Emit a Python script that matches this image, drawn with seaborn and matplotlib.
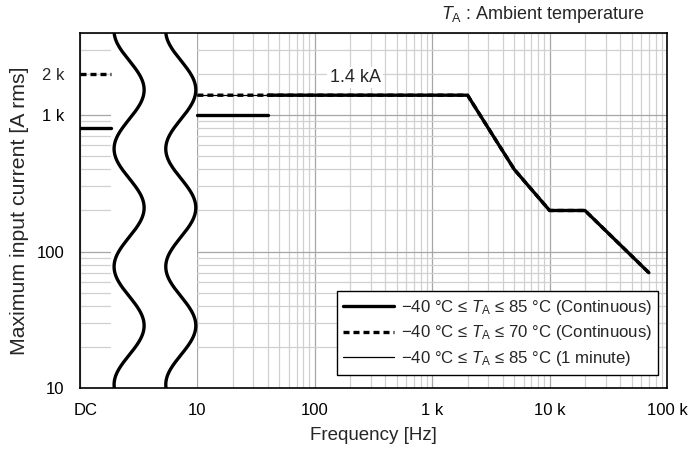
import numpy as np
import pandas as pd
import seaborn as sns
import matplotlib.pyplot as plt
from matplotlib.lines import Line2D
from matplotlib.ticker import FixedLocator, FuncFormatter, NullFormatter
from matplotlib.transforms import ScaledTranslation

# ---- values ----
# DC values (drawn in the "DC" strip at the left edge)
dc_i_cont85 = 800
dc_i_cont70 = 2000
# -40..85 C continuous
cont85_low_f = [10, 40]
cont85_low_i = [1000, 1000]
cont85_f = [40, 2000, 5000, 10000, 20000, 70000]
cont85_i = [1400, 1400, 400, 200, 200, 70]
# -40..70 C continuous
cont70_f = [10, 2000, 5000, 10000, 20000, 70000]
cont70_i = [1400, 1400, 400, 200, 200, 70]
# -40..85 C, 1 minute
min1_f = [10, 40]
min1_i = [1400, 1400]

x_ticks = [1, 10, 100, 1000, 10000, 100000]
x_labels = ['DC', '10', '100', '1 k', '10 k', '100 k']
y_ticks = [10, 100, 1000]
y_labels = ['10', '100', '1 k']

legend_labels = [
    '\u221240 \u00b0C \u2264 $T_{\\mathrm{A}}$ \u2264 85 \u00b0C (Continuous)',
    '\u221240 \u00b0C \u2264 $T_{\\mathrm{A}}$ \u2264 70 \u00b0C (Continuous)',
    '\u221240 \u00b0C \u2264 $T_{\\mathrm{A}}$ \u2264 85 \u00b0C (1 minute)',
]

sns.set_style('white')
plt.rcParams['font.family'] = ['Liberation Sans', 'DejaVu Sans']
plt.rcParams['mathtext.fontset'] = 'custom'
plt.rcParams['mathtext.rm'] = 'Liberation Sans'
plt.rcParams['mathtext.it'] = 'Liberation Sans:italic'

fig = plt.figure(figsize=(6.92, 4.49), dpi=100)
ax = fig.add_axes([0.1156, 0.1359, 0.8483, 0.7906])
ax.set_xscale('log')
ax.set_yscale('log')
ax.set_xlim(1, 100000)
ax.set_ylim(10, 4000)

# grid
ax.set_axisbelow(True)
ax.xaxis.set_minor_locator(FixedLocator([m * 10 ** d for d in range(0, 5) for m in range(2, 10)]))
ax.yaxis.set_minor_locator(FixedLocator([m * 10 ** d for d in range(1, 4) for m in range(2, 10)]))
ax.grid(which='major', color='#a6a6a6', lw=0.9)
ax.grid(which='minor', color='#d0d0d0', lw=0.9)

# blank region for the axis break between DC and 10 Hz
ax.axvspan(1.84, 9.93, color='white', zorder=1, lw=0)

dc_x = [1, 1.84]
thick = 2.4
dash = (1.8, 1.2)

# dashed -40..70 C
sns.lineplot(x=dc_x, y=[dc_i_cont70] * 2, ax=ax, color='black', lw=thick,
             zorder=3).lines[-1].set_dashes(dash)
sns.lineplot(x=cont70_f, y=cont70_i, ax=ax, color='black', lw=thick,
             sort=False, estimator=None, zorder=3).lines[-1].set_dashes(dash)
# thin 1 minute
sns.lineplot(x=min1_f, y=min1_i, ax=ax, color='black', lw=0.9, zorder=3)
# solid -40..85 C
sns.lineplot(x=dc_x, y=[dc_i_cont85] * 2, ax=ax, color='black', lw=thick, zorder=4)
sns.lineplot(x=cont85_low_f, y=cont85_low_i, ax=ax, color='black', lw=thick, zorder=4)
sns.lineplot(x=cont85_f, y=cont85_i, ax=ax, color='black', lw=thick,
             sort=False, estimator=None, zorder=4)

# wavy break marks
yy = np.linspace(1.0, np.log10(4000), 300)
for c in [2.62, 7.22]:
    xx = 10 ** (np.log10(c) + 0.128 * np.cos(2 * np.pi * (yy - 3.185) / 0.864))
    ax.plot(xx, 10 ** yy, color='black', lw=2.4, zorder=5)

ax.set_xticks(x_ticks)
ax.set_xticklabels(x_labels)
ax.set_yticks(y_ticks)
ax.set_yticklabels(y_labels)
ax.yaxis.set_minor_formatter(FuncFormatter(lambda v, p: '2 k' if abs(v - 2000) < 1 else ''))
ax.xaxis.set_minor_formatter(NullFormatter())
ax.tick_params(which='major', direction='in', length=4, width=1, colors='black',
               labelsize=12)
ax.tick_params(which='minor', length=0, labelsize=12)
ax.tick_params(axis='x', which='both', pad=11)
ax.tick_params(axis='y', which='both', pad=11)
for s in ax.spines.values():
    s.set_color('black')
    s.set_linewidth(1.2)

# "DC" sits a little right of the axis edge
dc_lbl = ax.get_xticklabels()[0]
dc_lbl.set_transform(dc_lbl.get_transform() + ScaledTranslation(4 / 72, 0, fig.dpi_scale_trans))

ax.set_xlabel('Frequency [Hz]', fontsize=13.5, labelpad=6)
ax.set_ylabel('Maximum input current [A rms]', fontsize=15.3, labelpad=6)

ax.text(220, 1880, '1.4 kA', fontsize=13, ha='center', va='center', zorder=6,
        bbox=dict(facecolor='white', edgecolor='none', pad=1.5))
ax.text(0.9625, 1.022, '$T_{\\mathrm{A}}$ : Ambient temperature', transform=ax.transAxes,
        ha='right', va='bottom', fontsize=13)

handles = [Line2D([], [], color='black', lw=thick),
           Line2D([], [], color='black', lw=thick, dashes=dash),
           Line2D([], [], color='black', lw=0.9)]
leg = ax.legend(handles, legend_labels, loc='lower right', bbox_to_anchor=(0.985, 0.037),
                borderaxespad=0, fontsize=12.1, frameon=True, fancybox=False, framealpha=1,
                edgecolor='black', handlelength=3.0, handletextpad=0.4,
                borderpad=0.4, labelspacing=0.4)
leg.get_frame().set_linewidth(1.0)
leg.set_zorder(7)

fig.savefig('out.png', dpi=100)
